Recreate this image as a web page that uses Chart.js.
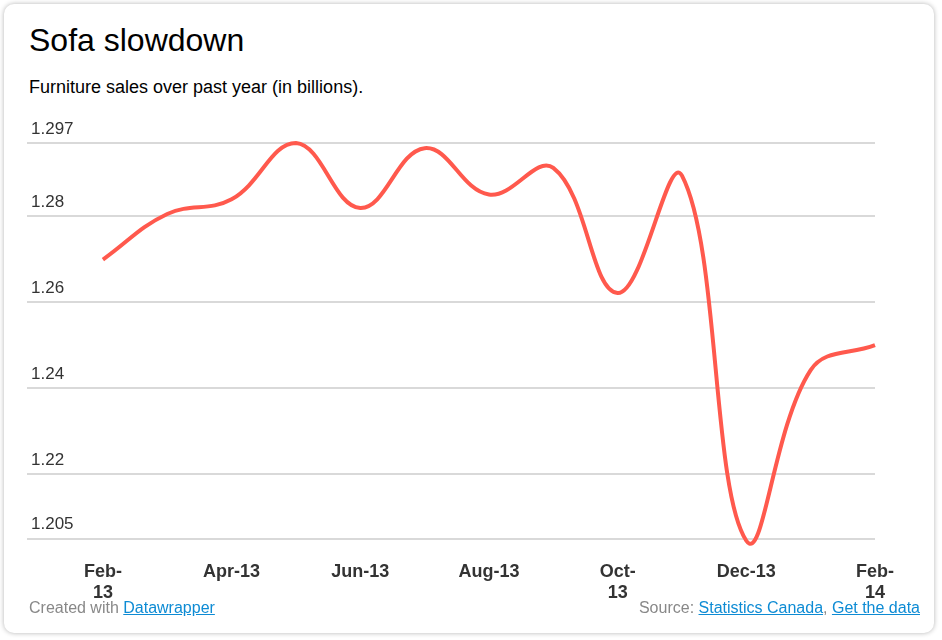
<!DOCTYPE html>
<html>
<head>
<meta charset="utf-8">
<script src="https://cdn.jsdelivr.net/npm/chart.js@4"></script>
<style>
  html, body { margin: 0; padding: 0; background: #fff; }
  body { width: 942px; height: 640px; position: relative; overflow: hidden; font-family: "Liberation Sans", Arial, sans-serif; }
  .card {
    position: absolute; left: 4px; top: 4px; width: 930px; height: 629px;
    background: #fff; border-radius: 10px;
    box-shadow: 0 0 5px rgba(0, 0, 0, 0.3);
  }
  h1 { position: absolute; left: 29px; top: 20px; margin: 0; font-size: 32px; font-weight: normal; color: #000; line-height: 40px; }
  .sub { position: absolute; left: 29px; top: 77px; font-size: 18px; color: #000; line-height: 20px; }
  .wrap { position: absolute; left: 20px; top: 110px; width: 897px; height: 520px; }
  .foot { position: absolute; top: 599px; font-size: 16px; color: #888; line-height: 18px; }
  .foot a { color: #0d8bd4; text-decoration: underline; }
  .left { left: 29px; }
  .right { right: 22px; }
</style>
</head>
<body>
<div class="card"></div>
<h1>Sofa slowdown</h1>
<div class="sub">Furniture sales over past year (in billions).</div>
<div class="wrap"><canvas id="myChart"></canvas></div>
<div class="foot left">Created with <a>Datawrapper</a></div>
<div class="foot right">Source: <a>Statistics Canada</a>, <a>Get the data</a></div>
<script>
const months = ["Feb-13", "Mar-13", "Apr-13", "May-13", "Jun-13", "Jul-13", "Aug-13",
  "Sep-13", "Oct-13", "Nov-13", "Dec-13", "Jan-14", "Feb-14"];
const sales = [1.2699, 1.2805, 1.2839, 1.2970, 1.2819, 1.2958, 1.2850,
  1.2912, 1.2621, 1.2894, 1.2045, 1.2442, 1.2500];
const yTicks = [1.297, 1.28, 1.26, 1.24, 1.22, 1.205];
const xTickIdx = [0, 2, 4, 6, 8, 10, 12];
const xTickLabels = [["Feb-", "13"], "Apr-13", "Jun-13", "Aug-13", ["Oct-", "13"], "Dec-13", ["Feb-", "14"]];

const ctx = document.getElementById("myChart");

// y labels sit above their gridlines, left aligned
const yLabels = {
  id: "yLabels",
  afterDraw(chart) {
    const y = chart.scales.y;
    const c = chart.ctx;
    c.save();
    c.font = "17px 'Liberation Sans', Arial, sans-serif";
    c.fillStyle = "#333";
    c.textAlign = "left";
    c.textBaseline = "middle";
    yTicks.forEach((t) => {
      c.fillText(String(t), chart.chartArea.left + 4, y.getPixelForValue(t) - 14);
    });
    c.restore();
  },
};

new Chart(ctx, {
  type: "line",
  data: {
    datasets: [
      {
        data: sales.map((v, i) => ({ x: i, y: v })),
        borderColor: "#ff594d",
        borderWidth: 4,
        pointRadius: 0,
        tension: 0.4,
        fill: false,
        clip: false,
      },
    ],
  },
  options: {
    responsive: true,
    maintainAspectRatio: false,
    animation: false,
    layout: { padding: { left: 7, right: 10, top: 33, bottom: 4 } },
    plugins: { legend: { display: false }, tooltip: { enabled: false } },
    scales: {
      x: {
        type: "linear",
        min: -1.18,
        max: 12,
        afterBuildTicks: (scale) => {
          scale.ticks = xTickIdx.map((v) => ({ value: v }));
        },
        ticks: {
          autoSkip: false,
          maxRotation: 0,
          padding: 23,
          color: "#333",
          font: { family: "'Liberation Sans', Arial, sans-serif", size: 18, weight: "bold", lineHeight: 1.15 },
          callback: (v) => xTickLabels[xTickIdx.indexOf(v)],
        },
        grid: { display: false, drawTicks: false },
        border: { display: false },
      },
      y: {
        min: 1.205,
        max: 1.297,
        afterBuildTicks: (scale) => {
          scale.ticks = yTicks.map((v) => ({ value: v }));
        },
        ticks: { display: false },
        grid: { color: "#d9d9d9", lineWidth: 2, drawTicks: false },
        border: { display: false },
      },
    },
  },
  plugins: [yLabels],
});
</script>
</body>
</html>
